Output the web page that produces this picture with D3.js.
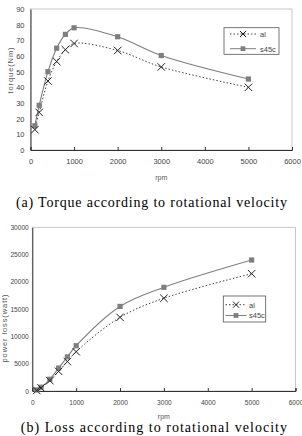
<!DOCTYPE html>
<html><head><meta charset="utf-8">
<script src="https://cdn.jsdelivr.net/npm/d3@7/dist/d3.min.js"></script>
<style>
html,body{margin:0;padding:0;background:#fff;}
svg{display:block;}
</style></head>
<body>
<svg id="c" width="302" height="436"></svg>
<script>
const rpm = [100, 200, 400, 600, 800, 1000, 2000, 3000, 5000];
const torqueAl   = [13, 24, 44, 56.5, 64, 68, 63.5, 53, 40];
const torqueS45c = [15.5, 28.5, 50, 65, 73.8, 78, 72.3, 60.3, 45.3];
const lossAl   = [100, 550, 1900, 3600, 5400, 7200, 13500, 17000, 21500];
const lossS45c = [200, 700, 2150, 4200, 6250, 8300, 15500, 19000, 24000];
const xTicks = [0, 1000, 2000, 3000, 4000, 5000, 6000];
const torqueTicks = [0, 10, 20, 30, 40, 50, 60, 70, 80, 90];
const lossTicks = [0, 5000, 10000, 15000, 20000, 25000, 30000];
const seriesNames = ["al", "s45c"];
const captions = ["(a)  Torque  according  to  rotational  velocity",
                  "(b)  Loss  according  to  rotational  velocity"];

const svg = d3.select("#c");
const tickFont = "Liberation Sans, Arial, sans-serif";
const gray = "#7f7f7f";
const dark = "#333";

function chart(cfg) {
  const x = d3.scaleLinear().domain([0, 6000]).range(cfg.xr);
  const y = d3.scaleLinear().domain([0, cfg.ymax]).range(cfg.yr);
  const g = svg.append("g");
  // frame
  g.append("rect").attr("x", x(0)).attr("y", y(cfg.ymax))
    .attr("width", x(6000) - x(0)).attr("height", y(0) - y(cfg.ymax))
    .attr("fill", "none").attr("stroke", "#bbb").attr("stroke-width", 0.8);
  // x axis
  const xa = g.append("g").attr("transform", `translate(0,${y(0)})`)
    .call(d3.axisBottom(x).tickValues(xTicks).tickSize(-3).tickPadding(9).tickFormat(d3.format("d")));
  xa.select(".domain").attr("stroke", dark).attr("stroke-width", 1);
  xa.selectAll(".tick line").attr("stroke", dark);
  xa.selectAll("text").attr("font-family", tickFont).attr("font-size", cfg.fs).attr("fill", "#444");
  // y axis
  const ya = g.append("g").attr("transform", `translate(${x(0)},0)`)
    .call(d3.axisLeft(y).tickValues(cfg.yticks).tickSize(0).tickPadding(cfg.ypad).tickFormat(d3.format("d")));
  ya.select(".domain").attr("stroke", dark).attr("stroke-width", 1);
  ya.selectAll("text").attr("font-family", tickFont).attr("font-size", cfg.fs).attr("fill", "#444");
  // axis titles
  g.append("text").attr("x", (x(0) + x(6000)) / 2).attr("y", cfg.rpmY)
    .attr("text-anchor", "middle").attr("font-family", tickFont).attr("font-size", 7)
    .attr("fill", "#555").text("rpm");
  g.append("text").attr("transform", `translate(${cfg.ytX},${cfg.ytY}) rotate(-90)`)
    .attr("text-anchor", "middle").attr("font-family", tickFont).attr("font-size", 7.5)
    .attr("letter-spacing", 0.9).attr("fill", "#555").text(cfg.ytitle);
  // lines
  const line = d3.line().x((d, i) => x(rpm[i])).y(d => y(d)).curve(d3.curveCatmullRom.alpha(0.5));
  g.append("path").datum(cfg.al).attr("d", line).attr("fill", "none")
    .attr("stroke", "#444").attr("stroke-width", 1).attr("stroke-dasharray", "1.5,2");
  g.append("path").datum(cfg.s45c).attr("d", line).attr("fill", "none")
    .attr("stroke", gray).attr("stroke-width", 1.1);
  // markers
  g.selectAll(".sq").data(cfg.s45c).enter().append("rect")
    .attr("x", (d, i) => x(rpm[i]) - 2.6).attr("y", d => y(d) - 2.6)
    .attr("width", 5.2).attr("height", 5.2).attr("fill", gray);
  const cross = d3.symbol().type(d3.symbolX).size(38);
  g.selectAll(".cx").data(cfg.al).enter().append("path")
    .attr("transform", (d, i) => `translate(${x(rpm[i])},${y(d)})`)
    .attr("d", cross).attr("fill", "none").attr("stroke", "#222").attr("stroke-width", 1);
  // legend
  const L = cfg.leg;
  g.append("rect").attr("x", L.x0).attr("y", L.y0).attr("width", L.x1 - L.x0).attr("height", L.y1 - L.y0)
    .attr("fill", "#fff").attr("stroke", "#555").attr("stroke-width", 0.8);
  seriesNames.forEach((name, i) => {
    const ry = L.rows[i];
    const ln = g.append("line").attr("x1", L.lx0).attr("x2", L.lx1).attr("y1", ry).attr("y2", ry)
      .attr("stroke", i === 0 ? "#444" : gray).attr("stroke-width", 1);
    if (i === 0) {
      ln.attr("stroke-dasharray", "1.5,2");
      g.append("path").attr("transform", `translate(${(L.lx0 + L.lx1) / 2},${ry})`)
        .attr("d", d3.symbol().type(d3.symbolX).size(26)).attr("fill", "none").attr("stroke", "#222");
    } else {
      g.append("rect").attr("x", (L.lx0 + L.lx1) / 2 - 2.4).attr("y", ry - 2.4)
        .attr("width", 4.8).attr("height", 4.8).attr("fill", gray);
    }
    g.append("text").attr("x", L.tx).attr("y", ry + 2.8).attr("font-family", tickFont)
      .attr("font-size", 7.5).attr("fill", "#444").text(name);
  });
  // caption
  svg.append("text").attr("x", cfg.cap.x0).attr("y", cfg.cap.y)
    .attr("font-family", "Liberation Serif, Times New Roman, serif").attr("font-size", 14)
    .attr("textLength", cfg.cap.x1 - cfg.cap.x0).attr("lengthAdjust", "spacing")
    .attr("fill", "#000").text(cfg.caption);
}

chart({
  xr: [30.5, 292], yr: [150, 9], ymax: 90, yticks: torqueTicks, ypad: 6, fs: 7.5,
  rpmY: 180, ytX: 13, ytY: 70, ytitle: "torque(Nm)",
  al: torqueAl, s45c: torqueS45c,
  leg: {x0: 224, x1: 279, y0: 27.7, y1: 54.3, rows: [34, 48.7], lx0: 230, lx1: 256, tx: 260},
  cap: {x0: 16, x1: 287, y: 206.5}, caption: captions[0]
});
chart({
  xr: [32.3, 295.5], yr: [391, 227.3], ymax: 30000, yticks: lossTicks, ypad: 3.5, fs: 6.6,
  rpmY: 419, ytX: 7, ytY: 328, ytitle: "power loss(watt)",
  al: lossAl, s45c: lossS45c,
  leg: {x0: 223.3, x1: 265.7, y0: 296, y1: 322, rows: [304.7, 315.5], lx0: 225.5, lx1: 246.5, tx: 249},
  cap: {x0: 20.7, x1: 287, y: 432}, caption: captions[1]
});
</script>
</body></html>
